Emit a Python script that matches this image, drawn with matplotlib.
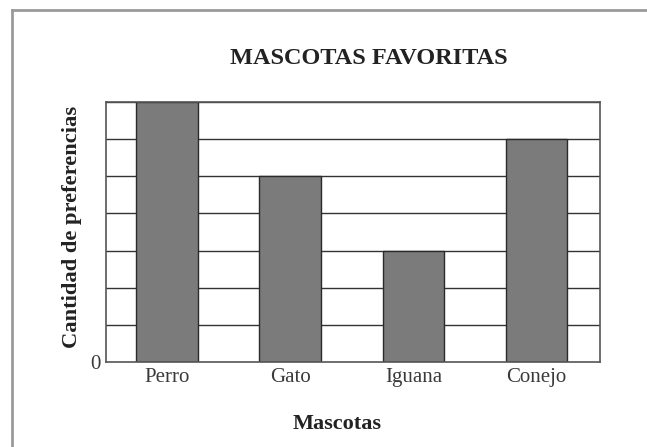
import matplotlib
matplotlib.use("Agg")
import matplotlib.pyplot as plt
from matplotlib.lines import Line2D

categories = ["Perro", "Gato", "Iguana", "Conejo"]
values = [7, 5, 3, 6]
y_ticks = [0]
y_tick_labels = ["0"]
title = "MASCOTAS FAVORITAS"
x_label = "Mascotas"
y_label = "Cantidad de preferencias"

plt.rcParams['font.family'] = ['Liberation Serif', 'DejaVu Serif']

fig = plt.figure(figsize=(6.47, 4.47), dpi=100)
fig.patch.set_facecolor("white")

# outer frame (left and top lines only)
fig.add_artist(Line2D([12/647, 12/647], [0, 1 - 10/447], transform=fig.transFigure,
                      color="#9a9a9a", lw=2.0))
fig.add_artist(Line2D([12/647, 1], [1 - 10/447, 1 - 10/447], transform=fig.transFigure,
                      color="#9a9a9a", lw=2.0))

ax = fig.add_axes([106/647, 85/447, 494/647, 260/447])
x = list(range(len(categories)))
ax.set_xlim(-0.494, 3.514)
ax.set_ylim(0, 7)
for lvl in range(1, 8):
    ax.axhline(lvl, color="#333333", lw=1.0, zorder=1)
ax.bar(x, values, width=0.5, color="#7b7b7b", edgecolor="#2a2a2a", linewidth=1.0, zorder=2)

for s in ax.spines.values():
    s.set_color("#555555")
    s.set_linewidth(1.2)

ax.set_xticks(x)
ax.set_xticklabels(categories, fontsize=15, color="#3a3a3a")
ax.set_yticks(y_ticks)
ax.set_yticklabels(y_tick_labels, fontsize=15, color="#3a3a3a")
ax.tick_params(length=0, pad=4)

fig.text(369/647, 1 - 58/447, title, ha="center", va="center", fontsize=17.5,
         fontweight="bold", color="#222222")
fig.text(72/647, 1 - 227/447, y_label, ha="center", va="center", rotation=90,
         fontsize=16.2, fontweight="bold", color="#222222")
fig.text(337/647, 1 - 424/447, x_label, ha="center", va="center", fontsize=16,
         fontweight="bold", color="#222222")

fig.savefig("out.png", dpi=100, facecolor="white")
